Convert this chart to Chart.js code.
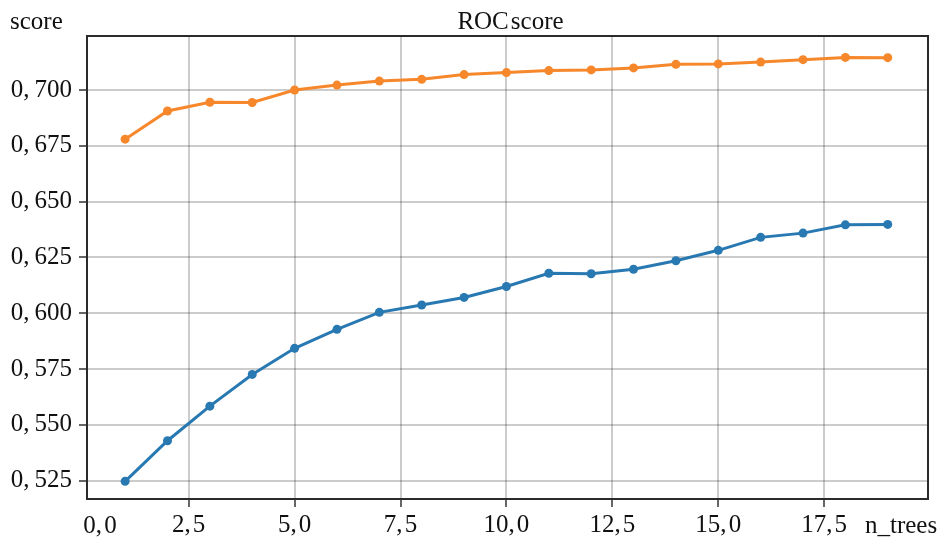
<!DOCTYPE html>
<html>
<head>
<meta charset="utf-8">
<script src="https://cdn.jsdelivr.net/npm/chart.js@4"></script>
<style>
    html, body { margin:0; padding:0; background:#fff; }
    #wrap { width:946px; height:538px; }
</style>
</head>
<body>
<div id="wrap"><canvas id="rocChart" width="946" height="538"></canvas></div>
<script>

// 数据：横轴为树的数量，两条曲线为 ROC score
const nTrees = [1,2,3,4,5,6,7,8,9,10,11,12,13,14,15,16,17,18,19];

const upperScores = [0.678,0.6906,0.6945,0.6944,0.700,0.7022,0.704,0.7048,0.7069,0.7078,
    0.7087,0.709,0.7099,0.7115,0.7117,0.7125,0.7136,0.7146,0.7145];

const lowerScores = [0.5247,0.5429,0.5584,0.5726,0.5843,0.5928,0.6004,0.6037,0.6071,0.612,
    0.6179,0.6177,0.6197,0.6235,0.6282,0.634,0.6359,0.6396,0.6398];

const xTicks = [2.5,5,7.5,10,12.5,15,17.5];

const yTicks = [0.525,0.550,0.575,0.600,0.625,0.650,0.675,0.700];

const FONT = "Liberation Serif";

// 小数用逗号；纵轴逗号后加窄空格，横轴更紧
function fmt(v, digits, gap){
    return v.toFixed(digits).replace(".", "," + gap);
}

// 画外框和额外文字（score / ROC score / n_trees / 0,0）
const frameText = {
    id:"frameText",
    afterDraw(chart){
        const ctx = chart.ctx;
        const a = chart.chartArea;
        ctx.save();
        ctx.strokeStyle = "#2b2b2b";
        ctx.lineWidth = 2;
        ctx.strokeRect(a.left, a.top, a.right - a.left, a.bottom - a.top);

        ctx.fillStyle = "#111";
        ctx.font = "25px '" + FONT + "'";
        ctx.textBaseline = "alphabetic";

        ctx.textAlign = "left";
        ctx.fillText("score", 10, 29);

        ctx.textAlign = "center";
        ctx.fillText("ROC\u200Ascore", (a.left + a.right) / 2 + 3, 29);
        ctx.fillText(fmt(0, 1, "\u200A"), a.left + 13, a.bottom + 34);

        ctx.textAlign = "left";
        ctx.fillText("n_trees", a.right - 63, a.bottom + 34);
        ctx.restore();
    }
};

const gridStyle = {
    color:"rgba(0,0,0,0.2)",
    lineWidth:2,
    tickLength:8,
    tickColor:"#333",
    tickWidth:1.5
};

const rocChart = new Chart(document.getElementById("rocChart"), {

    type:"line",

    data:{
        labels:nTrees,
        datasets:[
            {
                data:upperScores,
                borderColor:"#f7872b",
                backgroundColor:"#f7872b",
                borderWidth:3,
                pointRadius:4.5,
                pointBorderWidth:0,
                tension:0
            },
            {
                data:lowerScores,
                borderColor:"#2878b2",
                backgroundColor:"#2878b2",
                borderWidth:3,
                pointRadius:4.5,
                pointBorderWidth:0,
                tension:0
            }
        ]
    },

    options:{
        responsive:false,
        animation:false,
        layout:{
            padding:{ top:36, right:18, left:0, bottom:0 }
        },
        plugins:{
            legend:{ display:false },
            tooltip:{ enabled:false }
        },
        scales:{
            x:{
                type:"linear",
                min:0.1,
                max:19.95,
                afterBuildTicks(scale){
                    scale.ticks = xTicks.map(v => ({ value:v }));
                },
                afterFit(scale){
                    scale.height = 39;
                },
                ticks:{
                    color:"#111",
                    padding:3,
                    maxRotation:0,
                    autoSkip:false,
                    font:{ family:FONT, size:25 },
                    callback:v => fmt(v, 1, "\u200A")
                },
                grid:gridStyle,
                border:{ display:false }
            },
            y:{
                type:"linear",
                min:0.5168,
                max:0.7242,
                afterBuildTicks(scale){
                    scale.ticks = yTicks.map(v => ({ value:v }));
                },
                afterFit(scale){
                    scale.width = 87;
                },
                ticks:{
                    color:"#111",
                    padding:7,
                    autoSkip:false,
                    font:{ family:FONT, size:25 },
                    callback:v => fmt(v, 3, "\u2009")
                },
                grid:gridStyle,
                border:{ display:false }
            }
        }
    },

    plugins:[frameText]
});

</script>
</body>
</html>
